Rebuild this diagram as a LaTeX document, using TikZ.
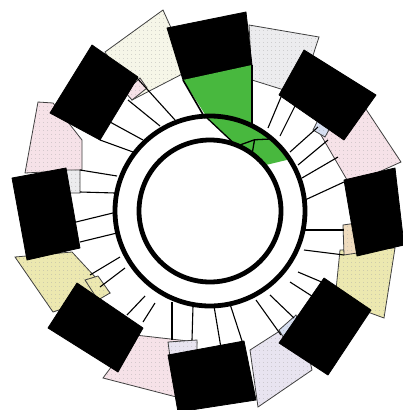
\documentclass[tikz,border=0pt]{standalone}
\usetikzlibrary{patterns.meta,calc}
\definecolor{gr}{RGB}{72,184,62}
\definecolor{cpink}{RGB}{246,226,232}
\definecolor{clav}{RGB}{232,228,240}
\definecolor{cyel}{RGB}{236,232,176}
\definecolor{cwy}{RGB}{246,246,232}
\definecolor{cgray}{RGB}{236,236,238}
\definecolor{cpeach}{RGB}{240,220,190}
\definecolor{cblue}{RGB}{214,222,240}
\begin{document}
\begin{tikzpicture}[x=1pt,y=-1pt,
  blk/.style={fill=black,draw=black,line width=0.8pt,line join=round},
  dotbox/.style={preaction={fill=#1},draw=black!75,line width=0.8pt,
     pattern={Dots[distance=4pt,radius=0.45pt]},pattern color=black!35},
  spoke/.style={draw=black,line width=1.1pt},
  ring/.style={draw=black,line width=4.8pt}]
\useasboundingbox (0,0) rectangle (402,410);
\fill[white] (0,0) rectangle (402,410);
\coordinate (C) at (210,211);
% dotted boxes
\path[dotbox=cwy]   (105,52) -- (163,10) -- (190,70) -- (132,100) -- cycle;
\path[dotbox=cgray] (249,25) -- (319,37) -- (300,95) -- (252,80) -- cycle;
\path[dotbox=cpink] (352,88) -- (401,162) -- (350,185) -- (318,130) -- cycle;
\path[dotbox=cyel]  (340,250) -- (395,248) -- (384,318) -- (335,300) -- cycle;
\path[dotbox=clav]  (250,350) -- (300,318) -- (312,370) -- (258,407) -- cycle;
\path[dotbox=cpink] (103,378) -- (135,335) -- (197,342) -- (188,400) -- cycle;
\path[dotbox=cyel]  (15,257) -- (72,252) -- (110,293) -- (53,312) -- cycle;
\path[dotbox=cpink] (38,102) -- (53,103) -- (82,140) -- (82,170) -- (25,173) -- cycle;
% small rectangles
\path[dotbox=cpink]  (125,92) -- (140,78) -- (147,88) -- (132,100) -- cycle;
\path[dotbox=cgray]  (65,170) -- (80,170) -- (80,193) -- (67,193) -- cycle;
\path[dotbox=cblue]  (318,120) -- (330,128) -- (325,137) -- (313,130) -- cycle;
\path[dotbox=cpeach] (343,225) -- (357,223) -- (357,253) -- (344,255) -- cycle;
\path[dotbox=cblue]  (279,330) -- (296,315) -- (303,332) -- (288,345) -- cycle;
\path[dotbox=clav]   (168,342) -- (197,340) -- (197,355) -- (170,357) -- cycle;
\path[dotbox=cyel]   (85,280) -- (98,276) -- (110,293) -- (98,300) -- cycle;
% spokes
\foreach \px/\py/\qx/\qy in {137/78/175/120, 128/100/160/126, 110/122/143/140, 100/140/133/152,
   80/170/117/176, 80/192/115/193, 72/223/117/212, 80/242/117/233,
   90/275/120/257, 100/287/125/268, 127/315/145/296, 143/322/155/303,
   172/340/172/302, 192/340/193/306, 221/348/214/306, 244/347/230/304,
   281/335/256/300, 294/318/270/295, 318/300/290/282, 324/283/298/272,
   344/230/305/230, 344/255/304/250, 344/182/305/200, 338/157/302/178,
   328/140/298/165, 318/127/290/152, 298/100/280/136, 281/97/268/128}
  \draw[spoke] (\px,\py) -- (\qx,\qy);
% black boxes
\path[blk] (167,28) -- (246,12) -- (252,65) -- (183,80) -- cycle;
\path[blk] (304,50) -- (376,95) -- (344,140) -- (279,95) -- cycle;
\path[blk] (344,180) -- (395,168) -- (404,245) -- (357,256) -- cycle;
\path[blk] (324,278) -- (371,310) -- (328,375) -- (279,343) -- cycle;
\path[blk] (168,355) -- (244,341) -- (256,400) -- (178,412) -- cycle;
\path[blk] (77,283) -- (143,328) -- (118,372) -- (48,328) -- cycle;
\path[blk] (12,178) -- (66,168) -- (80,248) -- (27,260) -- cycle;
\path[blk] (92,45) -- (138,77) -- (100,140) -- (50,113) -- cycle;
% white annulus
\fill[white] (C) circle (95);
% green regions
\fill[gr] (183,80) -- (252,65) -- ($(C)+(-63.7:97)$) arc[start angle=-63.7,end angle=-93,radius=97] -- cycle;
\draw[line width=1.6pt] (183,80) -- (205,118);
\draw[line width=1.6pt] (252,65) -- (252,127);
\fill[gr] ($(C)+(-93:95)$) arc[start angle=-93,end angle=-33,radius=95]
   -- ($(C)+(-40:71)$) arc[start angle=-40,end angle=-69,radius=71] -- cycle;
\draw[line width=1.3pt] ($(C)+(-93:95)$) -- ($(C)+(-69:71)$);
\draw[line width=1.3pt] ($(C)+(-66:72)$) -- ($(C)+(-58:84)$) -- ($(C)+(-50:94)$);
\draw[line width=1.3pt] ($(C)+(-58:84)$) -- ($(C)+(-54:72)$);
% rings
\draw[ring] (C) circle (95);
\draw[ring] (C) circle (71);
\end{tikzpicture}
\end{document}
